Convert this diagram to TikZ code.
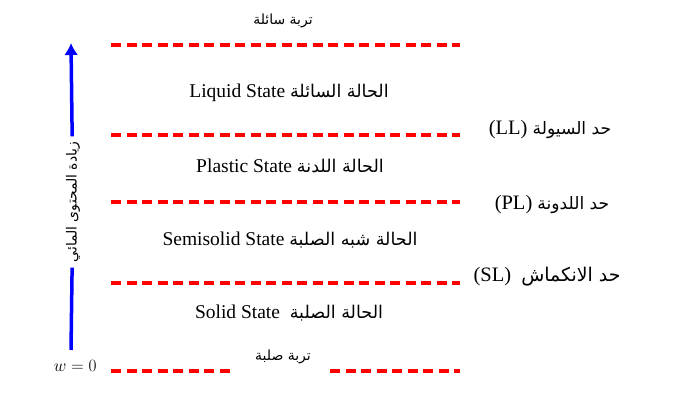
\documentclass[tikz,border=0pt]{standalone}
\usepackage{fontspec}
\setmainfont{Liberation Serif}
\newfontfamily\arabicfont[Script=Arabic,Scale=0.9]{DejaVu Sans}
\TeXXeTstate=1
\usetikzlibrary{arrows.meta}
\newcommand{\artxt}[1]{{\arabicfont\beginR #1\endR}}

\begin{document}
\begin{tikzpicture}[x=1pt,y=-1pt,
    lim/.style={red,line width=3.2pt,dash pattern=on 10pt off 5.5pt},
    etat/.style={font=\fontsize{19.5}{22}\selectfont},
    borne/.style={font=\fontsize{20.5}{24}\selectfont},
    petit/.style={font=\fontsize{15.5}{18}\selectfont}]
\useasboundingbox (0,0) rectangle (683,402);

% les limites
\foreach \n/\y in {a/45,b/135,c/202,d/283}
    {\coordinate (g\n) at (111,\y);
     \coordinate (d\n) at (460,\y);
     \draw [lim] (g\n)--(d\n);}

% la ligne w = 0
\coordinate (ge) at (111,371);
\coordinate (de) at (460,371);
\node [petit] (sol) at (283,357) {\artxt{تربة صلبة}};
\coordinate (ms) at (233,371);
\coordinate (md) at (330,371);
\draw [lim] (ge)--(ms);
\draw [lim] (md)--(de);
\node [font=\fontsize{16}{19}\selectfont,anchor=east] (w) at (100,366) {$w=0$};
\node [petit] (liq) at (283,21) {\artxt{تربة سائلة}};

% les etats
\node [etat] (sl) at (289,93) {Liquid State \artxt{الحالة السائلة}};
\node [etat] (sp) at (290,166) {Plastic State \artxt{الحالة اللدنة}};
\node [etat] (ss) at (290,240) {Semisolid State \artxt{الحالة شبه الصلبة}};
\node [etat] (so) at (289,313) {Solid State \ \artxt{الحالة الصلبة}};

% les limites d'Atterberg
\node [borne] (ll) at (550,130) {(LL) \artxt{\fontsize{19}{22}\selectfont حد السيولة}};
\node [borne] (pl) at (552,205) {(PL) \artxt{\fontsize{19}{22}\selectfont حد اللدونة}};
\node [borne] (lr) at (547,277) {(SL) \ \artxt{\fontsize{21}{24}\selectfont حد الانكماش}};

% la fleche
\coordinate (bas) at (71,350);
\coordinate (haut) at (71,43);
\node [petit,rotate=90,inner sep=5pt] (eau) at (73,202) {\artxt{زيادة المحتوى المائي}};
\draw [blue,line width=3.5pt] (bas)--(eau);
\draw [blue,line width=3.5pt,-{Latex[length=12pt,width=14pt]}] (eau)--(haut);
\end{tikzpicture}
\end{document}
